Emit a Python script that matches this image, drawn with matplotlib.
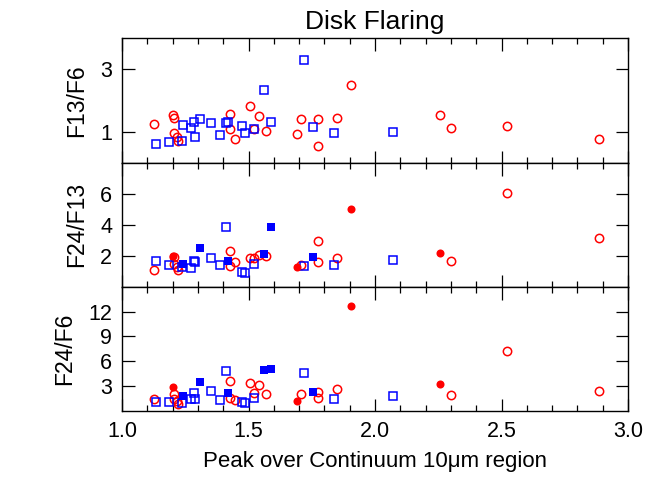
#!/usr/bin/env python
# disk flaring ratios vs 10um peak/continuum
import numpy as np
import matplotlib
matplotlib.use('Agg')
import matplotlib.pyplot as plt
from matplotlib.ticker import MultipleLocator, FormatStrFormatter

plt.rcParams['font.family'] = ['Liberation Sans', 'DejaVu Sans']

# red circles
red_x = [1.125, 1.200, 1.207, 1.204, 1.216, 1.223, 1.428, 1.428, 1.448, 1.507, 1.522, 1.542,
         1.569, 1.691, 1.707, 1.775, 1.775, 1.849, 1.907, 2.257, 2.302, 2.520, 2.886]
red_f13_f6 = [1.24, 1.52, 1.43, 0.95, 0.84, 0.69, 1.55, 1.08, 0.76, 1.83, 1.09, 1.50,
              1.01, 0.93, 1.39, 1.42, 0.55, 1.44, 2.50, 1.52, 1.13, 1.19, 0.75]
red_f24_f13 = [1.10, 1.98, 1.94, 1.50, 1.25, 1.05, 2.28, 1.36, 1.58, 1.87, 1.83, 2.06,
               2.00, 1.26, 1.41, 2.95, 1.62, 1.83, 5.03, 2.15, 1.66, 6.04, 3.12]
red_f24_f6 = [1.39, 2.95, 2.05, 1.50, 1.20, 0.80, 3.64, 1.51, 1.27, 3.44, 2.12, 3.16,
              2.04, 1.19, 2.00, 2.32, 1.59, 2.64, 12.72, 3.32, 1.92, 7.26, 2.40]
red_filled = [0, 1, 0, 0, 0, 0, 0, 0, 0, 0, 0, 0, 0, 1, 0, 0, 0, 0, 1, 1, 0, 0, 0]

# blue squares
blue_x = [1.135, 1.187, 1.237, 1.242, 1.273, 1.286, 1.289, 1.310, 1.350, 1.386, 1.411,
          1.418, 1.473, 1.485, 1.522, 1.563, 1.589, 1.719, 1.753, 1.838, 2.071]
blue_f13_f6 = [0.60, 0.66, 0.68, 1.20, 1.11, 1.31, 0.82, 1.42, 1.26, 0.88, 1.28,
               1.30, 1.17, 0.95, 1.07, 2.33, 1.30, 3.31, 1.16, 0.95, 1.00]
blue_f24_f13 = [1.64, 1.42, 1.30, 1.47, 1.21, 1.64, 1.58, 2.49, 1.85, 1.42, 3.82,
                1.65, 0.94, 0.88, 1.49, 2.11, 3.84, 1.37, 1.89, 1.43, 1.72]
blue_f24_f6 = [1.03, 1.03, 0.91, 1.80, 1.39, 2.20, 1.39, 3.56, 2.40, 1.31, 4.85,
               2.16, 1.11, 0.91, 1.63, 4.97, 5.05, 4.53, 2.24, 1.39, 1.76]
blue_filled = [0, 0, 0, 1, 0, 0, 0, 1, 0, 0, 0, 1, 0, 0, 0, 1, 1, 0, 1, 0, 0]

panels = [('F13/F6', red_f13_f6, blue_f13_f6, (0, 4), [1, 3], False),
          ('F24/F13', red_f24_f13, blue_f24_f13, (0, 8), [2, 4, 6], True),
          ('F24/F6', red_f24_f6, blue_f24_f6, (0, 15), [3, 6, 9, 12], True)]

fig = plt.figure(figsize=(6.65, 4.9), dpi=100)
left, width = 122 / 665, 506 / 665
ph = 124.2 / 490
bottom0 = 1 - 411 / 490

rf = np.array(red_filled, bool)
bf = np.array(blue_filled, bool)
rx = np.array(red_x)
bx = np.array(blue_x)

axes = []
for i, (lab, ry, by, ylim, yt, use_fill) in enumerate(panels):
    ax = fig.add_axes([left, bottom0 + (2 - i) * ph, width, ph])
    ry = np.array(ry)
    by = np.array(by)
    if use_fill:
        ro, bo = ~rf, ~bf
    else:
        ro, bo = np.ones_like(rf), np.ones_like(bf)
    ax.plot(rx[ro], ry[ro], 'o', mfc='none', mec='red', ms=6.0, mew=1.1, ls='none')
    ax.plot(bx[bo], by[bo], 's', mfc='none', mec='blue', ms=5.8, mew=1.1, ls='none')
    if use_fill:
        ax.plot(rx[rf], ry[rf], 'o', color='red', ms=5.8, mew=0, ls='none')
        ax.plot(bx[bf], by[bf], 's', color='blue', ms=5.8, mew=0, ls='none')
    ax.set_xlim(1.0, 3.0)
    ax.set_ylim(*ylim)
    ax.set_yticks(yt)
    ax.set_yticklabels([str(t) for t in yt])
    ax.xaxis.set_major_locator(MultipleLocator(0.5))
    ax.xaxis.set_minor_locator(MultipleLocator(0.1))
    ax.xaxis.set_major_formatter(FormatStrFormatter('%.1f'))
    ax.tick_params(which='both', direction='in', top=True, right=True, width=0.9)
    ax.tick_params(which='major', length=9, labelsize=15.5, pad=7)
    ax.tick_params(which='minor', length=4.5)
    ax.set_ylabel(lab, fontsize=16.5, labelpad=9)
    for s in ax.spines.values():
        s.set_linewidth(1.0)
    if i < 2:
        ax.tick_params(labelbottom=False)
    axes.append(ax)

axes[0].set_title('Disk Flaring', fontsize=19, pad=7)
axes[2].set_xlabel('Peak over Continuum 10\u03bcm region', fontsize=16, labelpad=7)
fig.align_ylabels(axes)

plt.savefig('out.png', dpi=100)
